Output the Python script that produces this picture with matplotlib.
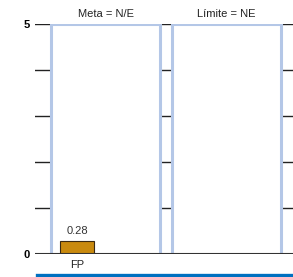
import matplotlib.pyplot as plt
from matplotlib.patches import Rectangle
from matplotlib.lines import Line2D
import matplotlib.transforms as mtransforms

plt.rcParams['font.family'] = ['Liberation Sans', 'DejaVu Sans']

# data
categories = ['FP']
values = [0.28]
value_labels = ['0.28']
panel_titles = ['Meta = N/E', 'Límite = NE']
ytick_vals = [0, 1, 2, 3, 4, 5]
ytick_labels = ['0', '', '', '', '', '5']

W, H = 293, 277
fig = plt.figure(figsize=(W / 100, H / 100), dpi=100)
ax = fig.add_axes([35 / W, (H - 254) / H, 258 / W, 230 / H])

ax.set_xlim(-1.235, 6.353)
ax.set_ylim(0, 5)

bars = ax.bar(range(len(categories)), values, width=1.0,
              color='#c98a0e', edgecolor='#3b2a12', linewidth=0.8, zorder=3)
for b, lab in zip(bars, value_labels):
    ax.text(b.get_x() + b.get_width() / 2, b.get_height() + 0.12, lab,
            ha='center', va='bottom', fontsize=8, color='#333333')
for i, c in enumerate(categories):
    ax.text(i, -0.12, c, ha='center', va='top', fontsize=8, color='#222222')

# panels
trans = mtransforms.blended_transform_factory(ax.transAxes, ax.transData)
panels = [(16 / 258, 125 / 258), (137 / 258, 246 / 258)]
for (x0, x1), title in zip(panels, panel_titles):
    ax.plot([x0, x0, x1, x1], [0, 5, 5, 0], transform=trans,
            color='#b4c7e7', lw=2.2, zorder=2, solid_joinstyle='miter')
    ax.text((x0 + x1) / 2, 5.1, title, transform=trans, ha='center',
            va='bottom', fontsize=8, color='#222222')

# tick marks
tick_spans = [(0, 15 / 258), (127 / 258, 136 / 258), (248 / 258, 1.0)]
for y in ytick_vals[1:]:
    for x0, x1 in tick_spans:
        ax.plot([x0, x1], [y, y], transform=trans, color='#222222', lw=1.0,
                zorder=1)

ax.axhline(0, color='#333333', lw=1.5, zorder=4)

ax.set_yticks(ytick_vals)
ax.set_yticklabels(ytick_labels, fontsize=8, fontweight='bold')
ax.tick_params(axis='y', length=0, pad=4)
ax.set_xticks([])
for s in ax.spines.values():
    s.set_visible(False)

fig.add_artist(Line2D([37 / W, 1.0], [2 / H, 2 / H], color='#0070c0', lw=2.4))

fig.savefig('out.png', dpi=100)
